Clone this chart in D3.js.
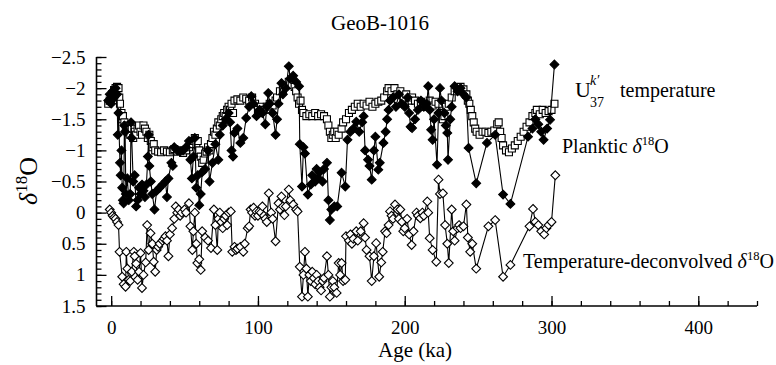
<!DOCTYPE html>
<html>
<head>
<meta charset="utf-8">
<script src="https://cdn.jsdelivr.net/npm/d3@7"></script>
</head>
<body style="margin:0">
<svg id="chart" width="776" height="365"></svg>
<script>
// GeoB-1016 record, values as [age (ka), value]
let u37Temp = [[-2,-1.75],[-1,-1.8],[0,-1.85],[1,-1.9],[2,-1.97],[3,-2.0],[4,-2.02],[5,-2.0],[5.5,-1.85],[6,-1.75],[7,-1.6],[7.5,-1.5],[8,-1.55],[9,-1.45],[10,-1.35],[11,-1.4],[12,-1.3],[13,-1.25],[14,-1.35],[15,-1.2],[16,-1.3],[17,-1.25],[18,-1.35],[19,-1.4],[20,-1.3],[21,-1.25],[22,-1.4],[23,-1.35],[24,-1.3],[25,-1.2],[26,-1.25],[27,-1.15],[28,-1.05],[29,-1.1],[30,-1.0],[32,-0.98],[34,-0.97],[36,-1.0],[38,-0.98],[40,-0.97],[42,-1.0],[43,-1.02],[45,-0.98],[47,-1.0],[49,-0.96],[51,-1.0],[53,-1.05],[54,-1.1],[56,-1.15],[57,-1.2],[58,-1.1],[59,-1.15],[60,-1.0],[61,-0.9],[62,-0.8],[63,-0.85],[64,-0.95],[65,-0.98],[66,-1.05],[67,-1.0],[68,-1.1],[69,-1.2],[70,-1.3],[71,-1.25],[72,-1.35],[73,-1.45],[74,-1.4],[75,-1.5],[76,-1.55],[77,-1.6],[78,-1.55],[79,-1.65],[80,-1.7],[81,-1.65],[82,-1.75],[83,-1.6],[84,-1.8],[86,-1.82],[88,-1.8],[90,-1.85],[92,-1.83],[94,-1.8],[96,-1.85],[98,-1.75],[100,-1.65],[101,-1.6],[102,-1.7],[104,-1.65],[106,-1.7],[108,-1.75],[110,-1.72],[112,-1.8],[113,-1.85],[115,-1.95],[117,-1.98],[119,-2.05],[121,-2.1],[123,-2.05],[125,-2.02],[126,-1.95],[127,-1.85],[128,-1.75],[129,-1.8],[130,-1.65],[131,-1.6],[133,-1.55],[135,-1.58],[137,-1.55],[139,-1.6],[141,-1.55],[143,-1.58],[145,-1.55],[147,-1.5],[148,-1.4],[149,-1.3],[150,-1.2],[151,-1.25],[152,-1.3],[153,-1.2],[154,-1.3],[155,-1.25],[157,-1.35],[158,-1.45],[160,-1.5],[162,-1.6],[164,-1.65],[166,-1.7],[168,-1.75],[170,-1.7],[172,-1.75],[174,-1.72],[176,-1.78],[178,-1.7],[180,-1.75],[182,-1.78],[184,-1.8],[186,-1.85],[188,-1.95],[189,-2.0],[191,-1.95],[193,-2.0],[195,-1.9],[197,-1.95],[199,-1.85],[201,-1.9],[203,-1.8],[205,-1.85],[207,-1.8],[209,-1.75],[211,-1.78],[213,-1.7],[215,-1.75],[217,-1.8],[219,-1.72],[221,-1.78],[223,-1.75],[225,-1.6],[226,-1.5],[227,-1.55],[228,-1.7],[230,-1.75],[232,-1.85],[234,-1.95],[236,-2.0],[238,-2.02],[240,-1.98],[242,-1.9],[243,-1.8],[244,-1.75],[245,-1.65],[246,-1.55],[247,-1.45],[248,-1.35],[249,-1.3],[251,-1.25],[253,-1.3],[255,-1.3],[257,-1.28],[259,-1.3],[261,-1.32],[263,-1.42],[264,-1.45],[265,-1.3],[266,-1.2],[267,-1.08],[269,-1.0],[271,-0.97],[273,-1.03],[275,-1.08],[277,-1.15],[279,-1.22],[281,-1.3],[283,-1.38],[285,-1.45],[287,-1.55],[289,-1.6],[290,-1.65],[292,-1.58],[294,-1.65],[296,-1.6],[298,-1.63],[300,-1.65],[302,-1.75]];

let planktic = [[-2,-1.8],[-1,-1.9],[0,-1.75],[1,-1.95],[2,-1.85],[3,-2.0],[4,-1.9],[4.5,-1.25],[5,-1.6],[6,-0.8],[6.5,-0.6],[7,-1.0],[7.5,-0.4],[8,-0.2],[8.5,-0.15],[9,-1.4],[9.5,-1.3],[10,-0.3],[11,-0.55],[12,-0.2],[13,-0.3],[13.5,-1.45],[14,-1.2],[15,-0.5],[16,-0.6],[17,-0.1],[18,-0.2],[19,-0.4],[20,-0.3],[21,-0.45],[22,-0.35],[23,-0.25],[24,-0.45],[25,-0.9],[25.5,-1.25],[26,-0.75],[27,-0.5],[28,-0.3],[29.5,-0.05],[31,-0.35],[33,-0.4],[35,-0.45],[37,-0.5],[38,-0.25],[39,-0.55],[41,-0.8],[42,-0.75],[43,-1.05],[45,-1.0],[47,-0.98],[49,-1.0],[51,-1.05],[53,-1.15],[54,-0.85],[55,-0.55],[56,-0.9],[57,-1.2],[58,-0.4],[59,-0.6],[60,-0.12],[61,-0.3],[62,-0.65],[64,-0.7],[66,-1.0],[67,-0.5],[69,-0.8],[71,-1.1],[73,-0.85],[74,-1.25],[76,-1.4],[78,-1.5],[80,-1.6],[81,-1.45],[82,-1.0],[83,-0.9],[84,-1.28],[86,-1.35],[88,-1.12],[90,-1.2],[92,-1.52],[94,-1.7],[95.5,-1.87],[97,-1.75],[99,-1.55],[101,-1.65],[103,-1.6],[105,-1.42],[106,-1.7],[107,-1.92],[108,-1.75],[110,-1.6],[112,-1.25],[113,-1.5],[114,-1.75],[116,-2.08],[117,-1.9],[119,-2.0],[121,-2.35],[122,-2.15],[124,-2.2],[126,-2.1],[128,-2.03],[128.5,-1.1],[130,-0.42],[131,-1.05],[132,-0.95],[134,-0.29],[136,-0.45],[137,-0.6],[139,-0.5],[140,-0.7],[141,-0.55],[142,-0.65],[144,-0.5],[145,-0.7],[147,-0.8],[148,-0.2],[149,0.12],[150,-0.05],[152,-0.1],[154,-0.1],[157,-0.64],[159.5,-0.42],[161,-1.17],[163,-1.3],[165,-1.35],[167,-1.46],[169,-1.3],[171,-1.45],[172,-1.55],[173,-1.0],[175,-0.85],[176,-0.75],[177.5,-0.53],[179,-1.0],[180,-1.22],[182,-0.69],[183,-0.8],[185.5,-1.12],[187,-1.3],[188,-1.5],[189,-1.65],[190,-1.8],[192,-1.85],[194,-1.7],[196,-1.9],[198,-1.75],[200,-1.7],[202,-1.85],[203,-1.6],[204,-1.38],[205,-1.36],[207,-1.5],[209,-1.65],[211,-1.8],[213,-1.7],[215,-1.75],[216,-2.03],[217,-1.65],[218,-1.33],[219,-1.17],[220,-1.5],[222,-0.77],[223,-1.6],[224,-2.0],[225,-1.8],[227,-1.6],[228,-1.4],[229,-1.28],[229.5,-0.85],[231,-1.5],[232,-1.7],[234,-2.03],[236,-1.95],[238,-2.0],[240,-1.9],[242,-1.85],[243.5,-1.04],[248.7,-0.47],[256,-1.12],[261.6,-1.25],[267,-0.29],[272,-0.14],[284,-1.22],[287,-1.35],[289,-1.5],[291,-1.42],[293,-1.3],[294.6,-1.17],[297,-1.35],[299,-1.49],[302,-2.38]];

let deconvolved = [[-1,-0.05],[0,0.0],[1,0.05],[2,0.08],[3,0.1],[4,0.15],[5,0.2],[5.7,0.63],[7.5,1.03],[8.5,1.15],[9.8,1.19],[10.3,0.63],[11,0.9],[12,1.08],[13,1.1],[14,0.95],[15.4,0.63],[16,0.7],[17,0.82],[18,1.08],[19,0.95],[20,0.65],[21,1.21],[22,1.0],[23.5,0.8],[24.5,0.2],[25.5,0.6],[26.8,0.33],[28,0.5],[29,0.79],[30,0.95],[31,0.6],[32,0.55],[33,0.5],[35,0.45],[36,0.42],[37,0.38],[38,0.45],[39,0.7],[40,0.35],[41.5,0.25],[43,0.1],[44,-0.1],[45,0.0],[46,-0.05],[47,0.05],[48,0.0],[50,-0.05],[51,0.0],[53,-0.15],[54,0.22],[55.3,0.6],[56,0.3],[57,0.0],[58,0.5],[58.7,0.81],[60,0.75],[61,0.92],[62,0.3],[64,0.4],[66,0.45],[68,0.57],[70,-0.05],[71,0.2],[72.3,0.6],[73,0.1],[74,0.0],[75,0.15],[76,0.25],[77,0.1],[78,0.05],[79,0.2],[80,0.0],[81.5,-0.02],[82.5,0.63],[84,0.55],[85,0.6],[86,0.58],[88,0.55],[90,0.63],[91,0.5],[93,0.25],[94,0.22],[95,-0.05],[96,0.0],[97,-0.08],[98,0.05],[99,-0.02],[100,0.05],[101,-0.02],[102,0.0],[103,-0.1],[104,0.05],[105,0.1],[106,0.15],[107.4,-0.31],[109,0.0],[110,0.1],[112,0.46],[114,-0.15],[115,-0.05],[116,-0.26],[117,-0.1],[118,0.04],[119,-0.1],[121,-0.37],[122,-0.2],[124,-0.13],[126,-0.05],[127,-0.02],[128.5,0.87],[130,1.35],[131,1.0],[132,0.63],[133,0.9],[134,1.35],[135,1.0],[136,1.1],[137,0.95],[138,1.05],[139,1.15],[140,1.0],[141,1.1],[142,1.2],[143,1.25],[144,1.1],[145,1.05],[147,0.7],[148,1.0],[149,1.35],[150,1.2],[151,1.1],[152,1.2],[153.6,1.29],[155,0.81],[156,1.0],[157,0.81],[158,1.1],[159.5,1.08],[160,0.38],[162,0.45],[163,0.35],[164,0.5],[165,0.42],[167,0.3],[168,0.45],[170,0.3],[172,0.17],[173,0.4],[174,0.6],[176,0.7],[177.5,1.1],[179,0.7],[180.5,0.49],[182.6,1.03],[184,0.8],[185,0.63],[186.6,0.3],[187.6,0.33],[189,0.2],[190,-0.02],[191,0.05],[192,0.1],[193.4,-0.13],[195,-0.05],[196,0.1],[197,-0.05],[198,0.15],[199,0.3],[200,0.25],[201.6,0.1],[203,0.35],[204.7,0.52],[206,0.3],[208,0.0],[209,0.05],[210.6,0.09],[212,0.0],[213,0.05],[215.4,-0.18],[216,0.0],[217,0.41],[219,0.6],[221.5,0.79],[223,-0.53],[224,-0.3],[226,-0.31],[227.5,0.2],[229,0.5],[230,0.81],[232,-0.05],[233,0.3],[234,0.45],[236,0.25],[237,0.2],[238,0.25],[240,0.22],[242,-0.13],[243,0.4],[244.6,0.63],[246,0.5],[248.7,0.9],[257,0.22],[261.6,0.12],[267,1.03],[272,0.84],[285,0.22],[287.4,-0.06],[289,0.15],[291,0.2],[293,0.3],[295,0.35],[296.5,0.25],[298,0.2],[300,0.15],[302.6,-0.6]];

let xMajorTicks = [0, 100, 200, 300, 400];
let yMajorTicks = [-2.5, -2, -1.5, -1, -0.5, 0, 0.5, 1, 1.5];

let width = 776, height = 365;
let margin = {top: 57, right: 19, bottom: 59, left: 96.5};
let innerW = width - margin.left - margin.right;
let innerH = height - margin.top - margin.bottom;

let svg = d3.select("#chart");
let g = svg.append("g").attr("transform", "translate(" + margin.left + "," + margin.top + ")");

let x = d3.scaleLinear().domain([-10, 440]).range([0, innerW]);
let y = d3.scaleLinear().domain([-2.5, 1.5]).range([0, innerH]);

let fmt = function(d) {
    if (d === 0) return "0";
    return (d < 0 ? "\u2212" : "") + Math.abs(d);
};

// minor ticks
g.append("g")
    .attr("transform", "translate(0," + innerH + ")")
    .call(d3.axisBottom(x).tickValues(d3.range(0, 441, 20)).tickSize(-5).tickFormat(""));
g.append("g")
    .call(d3.axisLeft(y).tickValues(d3.range(-25, 16).map(function(v){ return v / 10; })).tickSize(-5).tickFormat(""));

// major ticks + labels
let xAxis = g.append("g")
    .attr("transform", "translate(0," + innerH + ")")
    .call(d3.axisBottom(x).tickValues(xMajorTicks).tickSize(-10).tickSizeOuter(0).tickPadding(15).tickFormat(d3.format("d")));
let yAxis = g.append("g")
    .call(d3.axisLeft(y).tickValues(yMajorTicks).tickSize(-10).tickSizeOuter(0).tickPadding(11).tickFormat(fmt));

g.selectAll(".domain").remove();
g.selectAll(".tick line").attr("stroke", "#000").attr("stroke-width", 1.3);
g.selectAll("g").attr("font-family", null).attr("font-size", null);
[xAxis, yAxis].forEach(function(a){
    a.selectAll("text").style("font-size", "19px").attr("fill", "#000");
});

g.append("line").attr("x1", 0).attr("x2", 0).attr("y1", 0).attr("y2", innerH)
    .attr("stroke", "#000").attr("stroke-width", 1.6);
g.append("line").attr("x1", 0).attr("x2", innerW).attr("y1", innerH).attr("y2", innerH)
    .attr("stroke", "#000").attr("stroke-width", 1.6);

let line = d3.line().x(function(d){ return x(d[0]); }).y(function(d){ return y(d[1]); });

let diamond = function(r) {
    return "M0," + (-r) + "L" + r + ",0L0," + r + "L" + (-r) + ",0Z";
};
let square = function(r) {
    return "M" + (-r) + "," + (-r) + "h" + (2 * r) + "v" + (2 * r) + "h" + (-2 * r) + "Z";
};

let drawSeries = function(data, shape, fill) {
    let s = g.append("g");
    s.append("path")
        .datum(data)
        .attr("d", line)
        .attr("fill", "none")
        .attr("stroke", "#000")
        .attr("stroke-width", 1.1);
    s.selectAll("path.mk")
        .data(data)
        .enter()
        .append("path")
        .attr("class", "mk")
        .attr("d", shape)
        .attr("transform", function(d){ return "translate(" + x(d[0]) + "," + y(d[1]) + ")"; })
        .attr("fill", fill)
        .attr("stroke", "#000")
        .attr("stroke-width", 1.1);
};

drawSeries(u37Temp, square(3.5), "#fff");
drawSeries(planktic, diamond(4.4), "#000");
drawSeries(deconvolved, diamond(4.4), "#fff");

// title and axis titles
svg.append("text").attr("x", 380).attr("y", 30).attr("text-anchor", "middle")
    .style("font-size", "21px").text("GeoB-1016");

svg.append("text").attr("x", 415).attr("y", 357).attr("text-anchor", "middle")
    .style("font-size", "21px").text("Age (ka)");

let yl = svg.append("text")
    .attr("transform", "translate(37,181) rotate(-90)")
    .attr("text-anchor", "middle")
    .style("font-size", "26px");
yl.append("tspan").style("font-style", "italic").text("\u03b4");
yl.append("tspan").style("font-size", "17px").attr("dy", -10).text("18");
yl.append("tspan").attr("dy", 10).text("O");

// series annotations
svg.append("text").attr("x", 575).attr("y", 97).style("font-size", "22px").text("U");
svg.append("text").attr("x", 590).attr("y", 85).style("font-size", "14px").style("font-style", "italic").text("k\u2032");
svg.append("text").attr("x", 590).attr("y", 107).style("font-size", "14px").text("37");
svg.append("text").attr("x", 620).attr("y", 97).style("font-size", "20px").text("temperature");

let addDelta = function(xPos, yPos, label) {
    let t = svg.append("text").attr("x", xPos).attr("y", yPos).style("font-size", "20px");
    t.append("tspan").text(label + " ");
    t.append("tspan").style("font-style", "italic").text("\u03b4");
    t.append("tspan").style("font-size", "12.5px").attr("dy", -8).text("18");
    t.append("tspan").attr("dy", 8).text("O");
};
addDelta(562, 153, "Planktic");
addDelta(523, 268, "Temperature-deconvolved");

svg.selectAll("text").attr("font-family", "Liberation Serif").style("font-family", "'Liberation Serif'");
</script>
</body>
</html>
